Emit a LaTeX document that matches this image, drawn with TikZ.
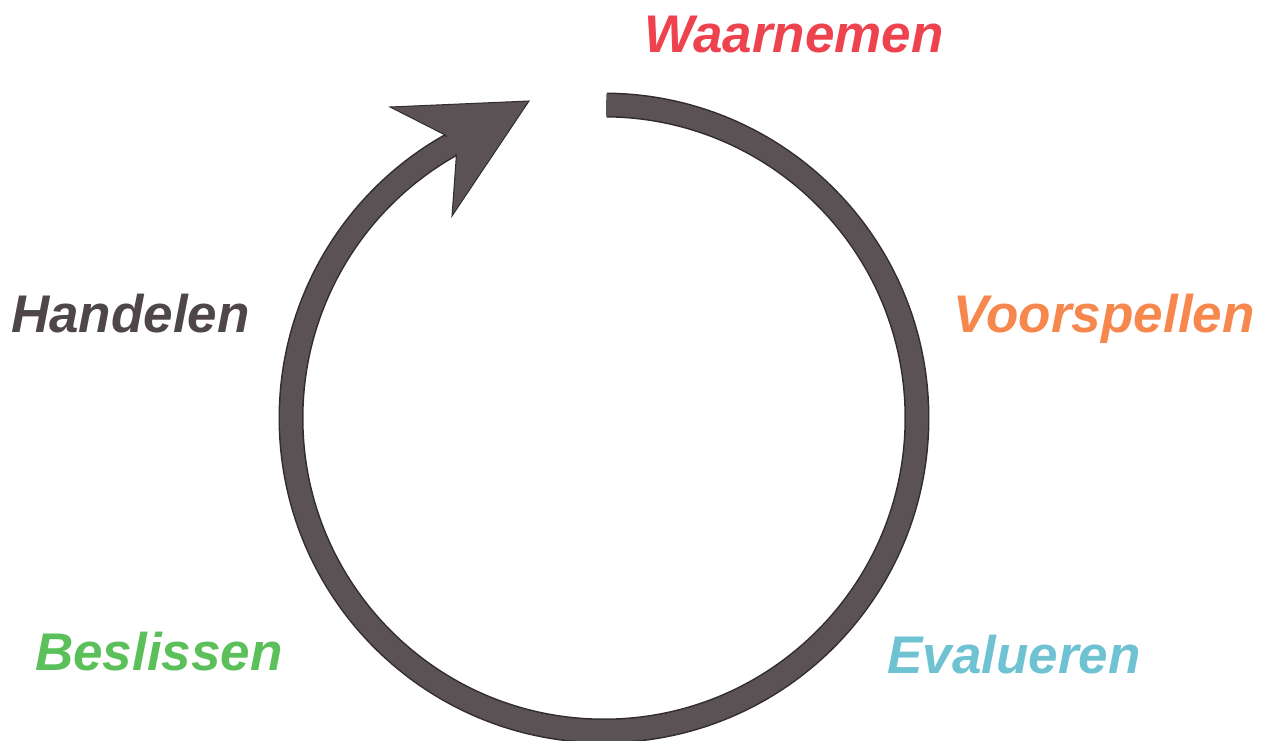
\documentclass[tikz,border=0pt]{standalone}
\usepackage{fontspec}
\setmainfont{Liberation Sans}
\definecolor{ringgray}{RGB}{90,82,84}
\definecolor{ringedge}{RGB}{50,44,48}
\definecolor{cwaar}{RGB}{238,66,78}
\definecolor{cvoor}{RGB}{246,136,78}
\definecolor{chand}{RGB}{78,70,74}
\definecolor{cbes}{RGB}{92,192,90}
\definecolor{ceval}{RGB}{110,194,210}
\tikzset{
  lbl/.style={anchor=base west, inner sep=0pt, font=\fontsize{53}{60}\selectfont\bfseries\itshape},
}
\begin{document}
\begin{tikzpicture}[x=1pt,y=1pt]
\useasboundingbox (0,0) rectangle (1262,740);
\coordinate (c) at (604,322);
% ring
\draw[ringedge, line width=25pt] (c) ++(89.5:313) arc[start angle=89.5, end angle=-241, radius=313];
\draw[ringgray, line width=22pt] (c) ++(89.6:313) arc[start angle=89.6, end angle=-241.5, radius=313];
% arrow head
\coordinate (tip) at (529,639);
\coordinate (ba) at (390,633);
\coordinate (n1) at (445.2,605.0);
\coordinate (n2) at (456.4,584.9);
\coordinate (bb) at (452,524);
\filldraw[fill=ringgray, draw=ringedge, line width=1pt, line join=miter] (tip) -- (ba) -- (n1) -- (n2) -- (bb) -- cycle;
\fill[ringgray] (c) ++(118.5:303) arc[start angle=118.5, end angle=119.6, radius=303] -- ++(119.6:19) arc[start angle=119.6, end angle=118.5, radius=322] -- cycle;
% labels
\node[lbl, text=cwaar] (waar) at (644,687) {Waarnemen};
\node[lbl, text=cvoor] (voor) at (953,407) {Voorspellen};
\node[lbl, text=chand] (hand) at (11,407) {Handelen};
\node[lbl, text=cbes] (bes) at (35,70) {Beslissen};
\node[lbl, text=ceval] (eval) at (887,67) {Evalueren};
\end{tikzpicture}
\end{document}
